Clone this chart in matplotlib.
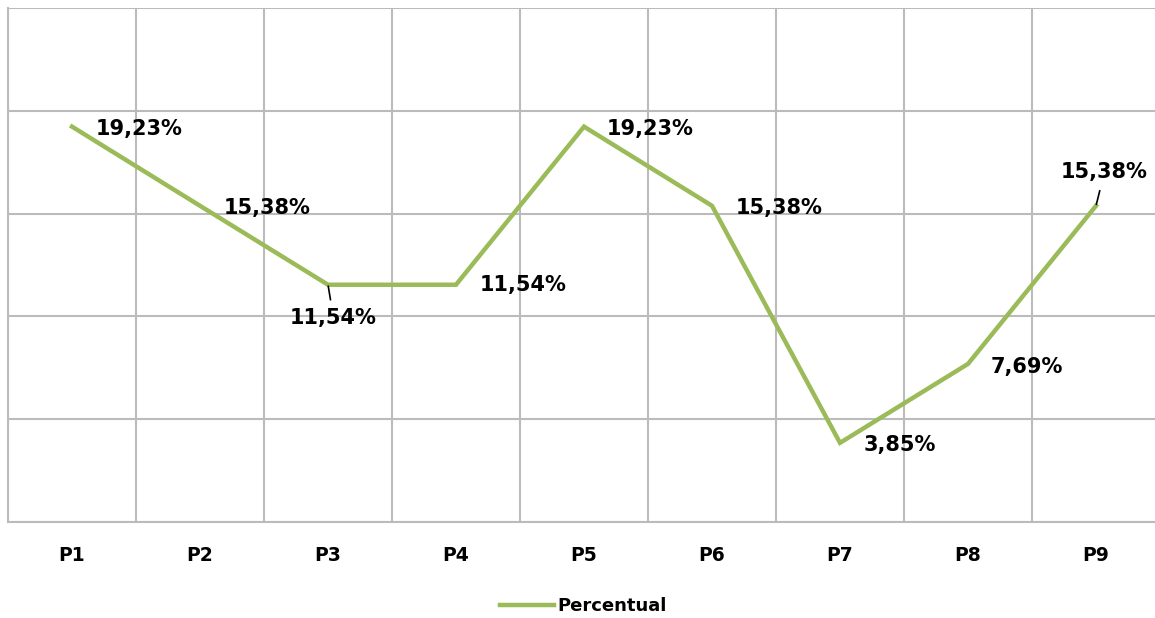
import matplotlib.pyplot as plt
from matplotlib.ticker import MultipleLocator

# Data
categories = ['P1', 'P2', 'P3', 'P4', 'P5', 'P6', 'P7', 'P8', 'P9']
percentual = [19.23, 15.38, 11.54, 11.54, 19.23, 15.38, 3.85, 7.69, 15.38]
labels = ['19,23%', '15,38%', '11,54%', '11,54%', '19,23%', '15,38%', '3,85%', '7,69%', '15,38%']

line_color = '#9BBB59'
grid_color = '#BBBBBB'
font = 'DejaVu Sans'

fig = plt.figure(figsize=(11.55, 6.18), dpi=100)
# plot area runs slightly past the right edge of the image, like the original
ax = fig.add_axes([8 / 1155, 96 / 618, 1152 / 1155, 514 / 618])

x = list(range(len(categories)))
ax.plot(x, percentual, color=line_color, lw=3.2, solid_joinstyle='miter', zorder=3)

ax.set_xlim(-0.5, len(categories) - 0.5)
ax.set_ylim(0, 25)
ax.yaxis.set_major_locator(MultipleLocator(5))
ax.set_xticks([i - 0.5 for i in range(len(categories) + 1)], minor=False)
ax.set_xticklabels([])
ax.set_xticks(x, minor=True)
ax.set_xticklabels(categories, minor=True, fontsize=13.5, fontweight='bold', family=font)
ax.tick_params(axis='x', which='both', length=0, pad=17)
ax.tick_params(axis='y', length=0, labelleft=False)
ax.grid(True, which='major', color=grid_color, lw=1.5)
ax.set_axisbelow(True)

for side in ['top', 'right']:
    ax.spines[side].set_visible(False)
for side in ['left', 'bottom']:
    ax.spines[side].set_color(grid_color)
    ax.spines[side].set_linewidth(1.5)

# label offsets in points (Excel-style, some moved by hand)
offsets = [(17, -1.5), (17, -1.5), (4, -24), (17, 0), (16, -1.5),
           (17, -1.5), (17, -1.5), (16, -2), (6, 24)]
leaders = [False, False, True, False, False, False, False, False, True]
for i in range(len(categories)):
    dx, dy = offsets[i]
    if leaders[i]:
        ax.annotate(labels[i], (x[i], percentual[i]), xytext=(dx, dy),
                    textcoords='offset points', ha='center', va='center',
                    fontsize=15, fontweight='bold', family=font, zorder=4,
                    arrowprops=dict(arrowstyle='-', color='black', lw=1.2,
                                    shrinkA=4, shrinkB=1))
    else:
        ax.annotate(labels[i], (x[i], percentual[i]), xytext=(dx, dy),
                    textcoords='offset points', ha='left', va='center',
                    fontsize=15, fontweight='bold', family=font, zorder=4)

leg = fig.legend(['Percentual'], loc='center', bbox_to_anchor=(0.505, 1 - 606 / 618),
                 frameon=False, handlelength=3, handletextpad=0.2,
                 prop=dict(size=13, weight='bold', family=font))

fig.savefig('out.png', dpi=100)
plt.close(fig)
